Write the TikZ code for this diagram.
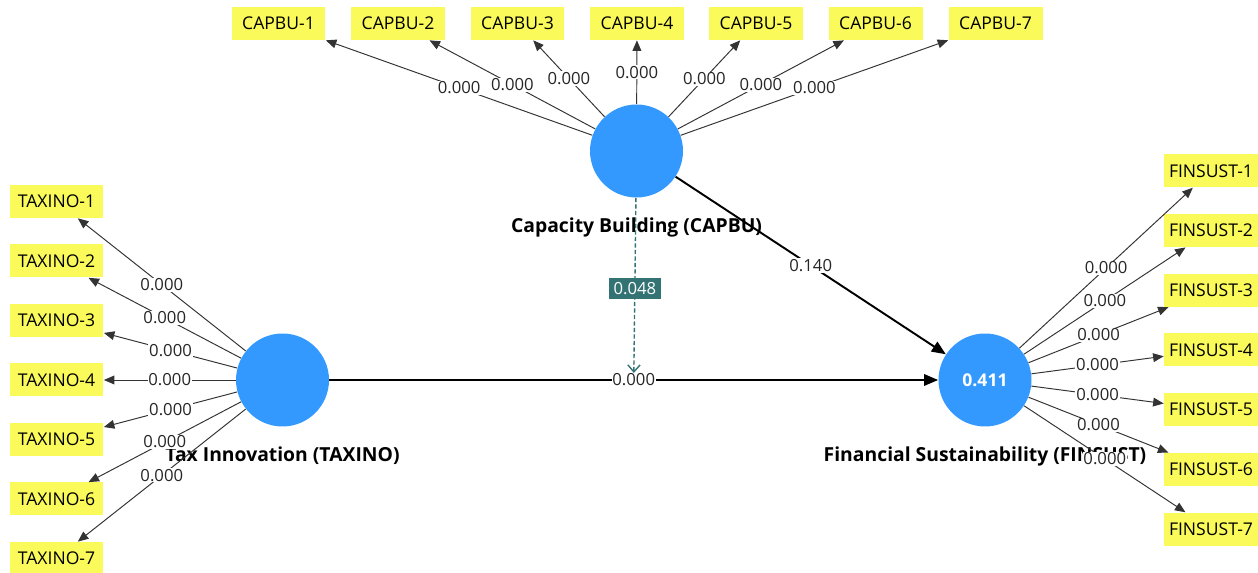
\documentclass[tikz,border=0pt]{standalone}
\usepackage{fontspec}
\setmainfont{Open Sans}
\usepackage{xcolor}
\usepackage{tikz}
\usetikzlibrary{arrows.meta, positioning, calc}

\definecolor{lvblue}{RGB}{51,153,255}
\definecolor{indyellow}{RGB}{250,250,90}
\definecolor{modteal}{RGB}{52,115,115}

\begin{document}
\begin{tikzpicture}[
      x=0.02cm, y=-0.02cm,
      font=\fontsize{10}{12}\selectfont,
      latent/.style={
          circle,
          fill=lvblue,
          minimum size=1.86cm,
          inner sep=0pt
      },
      indicator/.style={
          fill=indyellow,
          minimum width=1.88cm,
          minimum height=0.66cm,
          inner sep=1pt
      },
      construct/.style={font=\fontsize{11}{13}\selectfont\bfseries},
      loading/.style={-{Triangle[length=6pt, width=5pt]}, draw=black!80, line width=0.55pt},
      structural/.style={-{Triangle[length=8pt, width=6.5pt]}, line width=1.1pt},
      coef/.style={fill=white, inner sep=0.5pt, text=black!85, font=\fontsize{9.5}{11}\selectfont},
      moderator/.style={
          -{Straight Barb[length=4pt, width=7pt]},
          draw=modteal,
          dash pattern=on 2.5pt off 1.2pt,
          line width=0.8pt,
          shorten >=4pt
      }
  ]
      \useasboundingbox (0,0) rectangle (1258,573);

      % --- Latent variables ---
      \node[latent] (capbu) at (636.5,151) {};
      \node[latent] (taxino) at (282.5,380) {};
      \node[latent, text=white, font=\fontsize{10}{12}\selectfont\bfseries] (finsust) at (985,380) {0.411};

      % --- Construct names ---
      \node[construct, below=0.28cm of capbu] (capbu_lbl) {Capacity Building (CAPBU)};
      \node[construct, below=0.28cm of taxino] (taxino_lbl) {Tax Innovation (TAXINO)};
      \node[construct, below=0.28cm of finsust] (finsust_lbl) {Financial Sustainability (FINSUST)};

      % --- Indicators ---
      \foreach \i/\x in {1/278.5, 2/398, 3/517.5, 4/637, 5/756, 6/875.5, 7/995.5}
          \node[indicator] (capbu\i) at (\x, 23.5) {CAPBU-\i};
      \foreach \i in {1,...,7} {
          \node[indicator] (taxino\i) at (56.5, {380+(\i-4)*59.5}) {TAXINO-\i};
          \node[indicator] (finsust\i) at (1211, {350+(\i-4)*59.7}) {FINSUST-\i};
      }

      % --- Outer loadings ---
      \foreach \i in {1,...,7} {
          \draw[loading] (capbu) -- node[coef] {0.000} (capbu\i);
          \draw[loading] (taxino) -- node[coef] {0.000} (taxino\i);
          \draw[loading] (finsust) -- node[coef] {0.000} (finsust\i);
      }

      % --- Path coefficients ---
      \draw[structural] (taxino) -- node[coef] (direct) {0.000} (finsust);
      \draw[structural] (capbu) -- node[coef] {0.140} (finsust);

      % --- Moderating effect ---
      \coordinate (modend) at ($(taxino)!0.5!(finsust)$);
      \draw[moderator] (capbu) -- node[fill=modteal, text=white, inner sep=2.5pt, font=\fontsize{9.5}{11}\selectfont] {0.048} (modend);

  \end{tikzpicture}
\end{document}
